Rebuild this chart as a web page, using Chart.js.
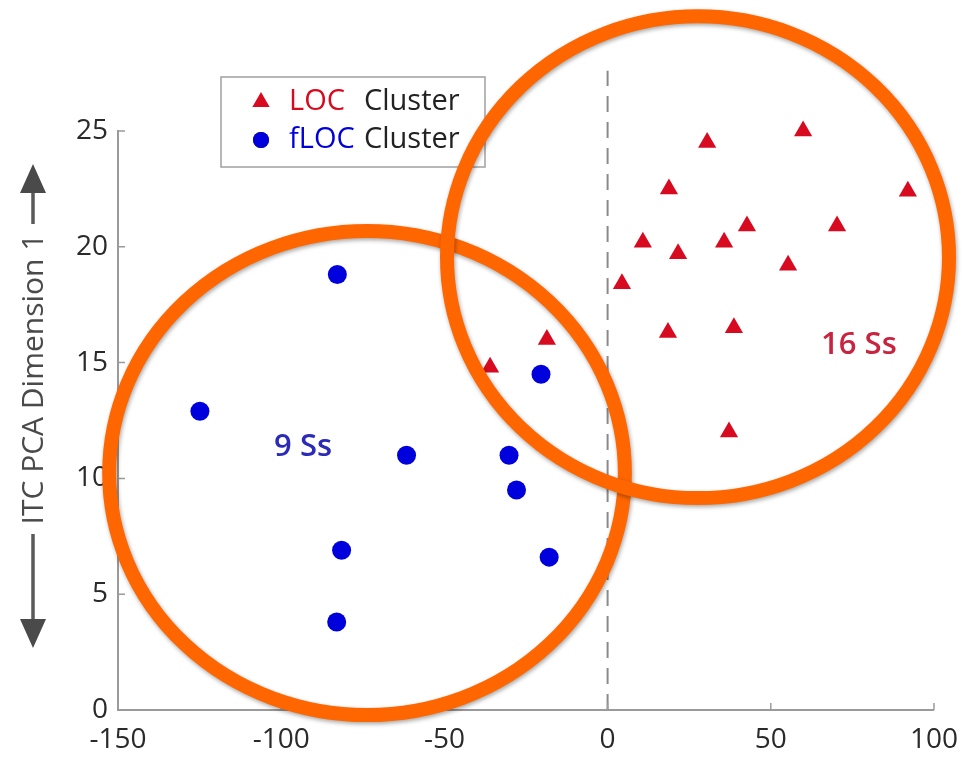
<!DOCTYPE html>
<html>
<head>
<meta charset="utf-8">
<script src="https://cdn.jsdelivr.net/npm/chart.js@4"></script>
<style>
  html, body { margin: 0; padding: 0; background: #fff; }
  canvas { display: block; }
</style>
</head>
<body>
<canvas id="pcaChart" width="971" height="764"></canvas>
<script>
// LOC cluster (red triangles)
const locX = [30.5, 59.9, 92.0, 18.8, 42.7, 70.3, 10.8, 35.7, 21.6, 55.3, 4.4, 18.5, 38.7, 37.2, -18.6, -36.0];
const locY = [24.5, 25.0, 22.4, 22.5, 20.9, 20.9, 20.2, 20.2, 19.7, 19.2, 18.4, 16.3, 16.5, 12.0, 16.0, 14.8];
// fLOC cluster (blue dots)
const flocX = [-82.8, -124.9, -61.6, -20.4, -30.2, -27.9, -81.5, -17.9, -83.0];
const flocY = [18.8, 12.9, 11.0, 14.5, 11.0, 9.5, 6.9, 6.6, 3.8];

const xTicks = [-150, -100, -50, 0, 50, 100];
const yTicks = [0, 5, 10, 15, 20, 25];
const dividerX = [0, 0];
const dividerY = [0, 27.6];

// annotation circles: [centerX, centerY, radiusX, radiusY] in data units
const circles = [[-73.7, 10.23, 79.0, 10.45], [27.7, 19.55, 76.9, 10.4]];
const groupLabels = [
    { text: '9 Ss', x: -93.3, y: 11.36, color: '#2b2bb8' },
    { text: '16 Ss', x: 77.0, y: 15.76, color: '#c8233f' }
];

const FONT = '"Open Sans", sans-serif';
const RED = '#d80a20';
const BLUE = '#0000dc';
const AXIS = '#9a9a9a';

const overlay = {
    id: 'overlay',
    beforeDatasetsDraw(chart) {
        const ctx = chart.ctx;
        // legend box
        ctx.save();
        ctx.fillStyle = '#fff';
        ctx.strokeStyle = '#a0a0a0';
        ctx.lineWidth = 1.5;
        ctx.fillRect(221, 77, 264, 90);
        ctx.strokeRect(221, 77, 264, 90);
        ctx.font = '29px ' + FONT;
        ctx.textBaseline = 'middle';
        const rows = [
            { y: 102, style: 'triangle', color: RED, tag: 'LOC', r: 10 },
            { y: 140, style: 'circle', color: BLUE, tag: 'fLOC', r: 8 }
        ];
        rows.forEach(row => {
            Chart.helpers.drawPoint(ctx, { pointStyle: row.style, radius: row.r, borderWidth: 0 }, 261, row.y);
            ctx.fillStyle = row.color;
            ctx.fill();
            ctx.fillText(row.tag, 289, row.y);
            ctx.fillStyle = '#222';
            ctx.fillText('Cluster', 364, row.y);
        });
        ctx.restore();
    },
    afterDraw(chart) {
        const ctx = chart.ctx;
        const xs = chart.scales.x, ys = chart.scales.y;
        const area = chart.chartArea;
        ctx.save();
        // inward tick marks
        ctx.strokeStyle = AXIS;
        ctx.lineWidth = 1.5;
        ctx.beginPath();
        yTicks.forEach(v => {
            const p = ys.getPixelForValue(v);
            ctx.moveTo(area.left, p); ctx.lineTo(area.left + 7, p);
        });
        xTicks.forEach(v => {
            const p = xs.getPixelForValue(v);
            ctx.moveTo(p, area.bottom); ctx.lineTo(p, area.bottom - 7);
        });
        ctx.stroke();

        // y axis title with arrows
        ctx.fillStyle = '#4a4a4a';
        ctx.strokeStyle = '#5a5a5a';
        ctx.lineWidth = 3.5;
        ctx.beginPath();
        ctx.moveTo(33, 224); ctx.lineTo(33, 180);
        ctx.moveTo(33, 534); ctx.lineTo(33, 630);
        ctx.stroke();
        ctx.beginPath();
        ctx.moveTo(33, 164); ctx.lineTo(20, 193); ctx.lineTo(46, 193); ctx.closePath();
        ctx.moveTo(33, 648); ctx.lineTo(20, 619); ctx.lineTo(46, 619); ctx.closePath();
        ctx.fill();
        ctx.save();
        ctx.translate(34, 379);
        ctx.rotate(-Math.PI / 2);
        ctx.font = '30px ' + FONT;
        ctx.textAlign = 'center';
        ctx.textBaseline = 'middle';
        ctx.fillText('ITC PCA Dimension 1', 0, 0);
        ctx.restore();

        // group counts
        ctx.font = '600 31px ' + FONT;
        ctx.textAlign = 'center';
        ctx.textBaseline = 'middle';
        groupLabels.forEach(g => {
            ctx.fillStyle = g.color;
            ctx.fillText(g.text, xs.getPixelForValue(g.x), ys.getPixelForValue(g.y));
        });

        // orange rings
        ctx.strokeStyle = '#ff6600';
        ctx.lineWidth = 14;
        ctx.shadowColor = 'rgba(0,0,0,0.35)';
        ctx.shadowBlur = 4;
        ctx.shadowOffsetX = 1;
        ctx.shadowOffsetY = 2;
        circles.forEach(c => {
            const cx = xs.getPixelForValue(c[0]);
            const cy = ys.getPixelForValue(c[1]);
            const rx = xs.getPixelForValue(c[0] + c[2]) - cx;
            const ry = cy - ys.getPixelForValue(c[1] + c[3]);
            ctx.beginPath();
            ctx.ellipse(cx, cy, rx, ry, 0, 0, Math.PI * 2);
            ctx.stroke();
        });
        ctx.restore();
    }
};

const ctx = document.getElementById('pcaChart').getContext('2d');
new Chart(ctx, {
    type: 'scatter',
    data: {
        datasets: [
            {
                label: 'LOC Cluster',
                data: locX.map((x, i) => ({ x, y: locY[i] })),
                pointStyle: 'triangle',
                pointRadius: 10.5,
                borderWidth: 0,
                backgroundColor: RED,
                borderColor: RED,
                clip: false
            },
            {
                label: 'fLOC Cluster',
                data: flocX.map((x, i) => ({ x, y: flocY[i] })),
                pointStyle: 'circle',
                pointRadius: 9.5,
                borderWidth: 0,
                backgroundColor: BLUE,
                borderColor: BLUE,
                clip: false
            },
            {
                label: 'divider',
                data: dividerX.map((x, i) => ({ x, y: dividerY[i] })),
                showLine: true,
                pointRadius: 0,
                borderColor: '#8a8a8a',
                borderWidth: 2,
                borderDash: [16, 10],
                clip: false
            }
        ]
    },
    options: {
        responsive: false,
        animation: false,
        devicePixelRatio: 1,
        layout: { padding: { top: 131, right: 37, left: 0, bottom: 0 } },
        plugins: { legend: { display: false }, tooltip: { enabled: false } },
        scales: {
            x: {
                type: 'linear',
                min: -150, max: 100,
                afterBuildTicks: s => { s.ticks = xTicks.map(v => ({ value: v })); },
                afterFit: s => { s.height = 54; },
                grid: { display: false, drawTicks: false },
                border: { display: true, color: AXIS, width: 2 },
                ticks: { color: '#2a2a2a', font: { family: FONT, size: 28 }, padding: 13, maxRotation: 0 }
            },
            y: {
                type: 'linear',
                min: 0, max: 25,
                afterBuildTicks: s => { s.ticks = yTicks.map(v => ({ value: v })); },
                afterFit: s => { s.width = 118; },
                grid: { display: false, drawTicks: false },
                border: { display: true, color: AXIS, width: 2 },
                ticks: { color: '#2a2a2a', font: { family: FONT, size: 28 }, padding: 10 }
            }
        }
    },
    plugins: [overlay]
});
</script>
</body>
</html>
